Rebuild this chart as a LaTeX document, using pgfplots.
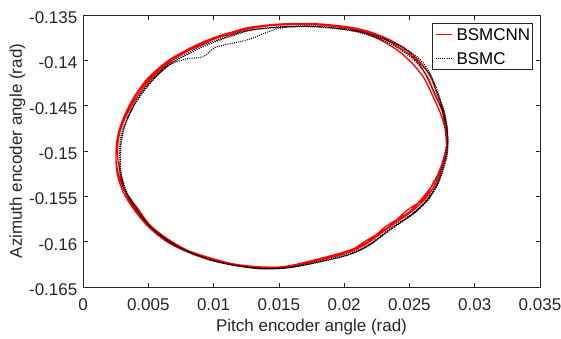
\documentclass[border=0pt]{standalone}
\usepackage{fontspec}
\setmainfont{Liberation Sans}
\usepackage{pgfplots}
\pgfplotsset{compat=1.18}

\definecolor{axisgray}{HTML}{262626}
\newcommand\fs{\fontsize{17}{20}\selectfont}

\begin{document}
\begin{tikzpicture}
\begin{axis}[
  scale only axis,
  width=457pt, height=272pt,
  xmin=0, xmax=0.035, ymin=-0.165, ymax=-0.135,
  scaled ticks=false,
  xtick={0,0.005,0.01,0.015,0.02,0.025,0.03,0.035},
  xticklabels={0,0.005,0.01,0.015,0.02,0.025,0.03,0.035},
  ytick={-0.165,-0.16,-0.155,-0.15,-0.145,-0.14,-0.135},
  yticklabels={-0.165,-0.16,-0.155,-0.15,-0.145,-0.14,-0.135},
  tick align=inside,
  major tick length=4.5pt,
  axis line style={draw=axisgray, line width=0.6pt},
  every tick/.style={draw=axisgray, line width=0.6pt},
  tick label style={font=\fs, text=axisgray, inner sep=0pt},
  xticklabel style={anchor=base, yshift=-23pt},
  yticklabel style={anchor=east, xshift=-5.5pt, yshift=-2.5pt},
  every axis x label/.style={at={(axis description cs:0.5,0)}, yshift=-44.7pt, anchor=base, font=\fs, text=axisgray},
  every axis y label/.style={at={(axis description cs:0,0.5)}, xshift=-65.5pt, rotate=90, anchor=center, font=\fs, text=axisgray},
  xlabel={Pitch encoder angle (rad)},
  ylabel={Azimuth encoder angle (rad)},
  legend cell align=left,
  legend image code/.code={\draw[#1] (0pt,0pt) -- (16.7pt,0pt);},
  legend style={at={(rel axis cs:1,1)}, anchor=north east, xshift=-7pt, yshift=-8pt,
    draw=axisgray, line width=0.6pt, font=\fs, text=black,
    inner xsep=2.5pt, inner ysep=4.9pt, row sep=11.8pt,
    nodes={inner sep=0pt, text height=12.2pt, text depth=0pt},
    /tikz/every odd column/.append style={column sep=3.5pt}},
]

% BSMCNN: three laps of the tracked trajectory
\addplot[red, line width=1.3pt, smooth, tension=0.5] coordinates {
(0.02792,-0.14890) (0.02785,-0.14730) (0.02760,-0.14550) (0.02712,-0.14365)
(0.02655,-0.14165) (0.02570,-0.14000) (0.02460,-0.13865) (0.02325,-0.13757)
(0.02172,-0.13675) (0.02019,-0.13629) (0.01763,-0.13595) (0.01508,-0.13600)
(0.01279,-0.13635) (0.01151,-0.13684) (0.01024,-0.13739) (0.00896,-0.13812)
(0.00768,-0.13905) (0.00641,-0.14015) (0.00495,-0.14200) (0.00395,-0.14395)
(0.00325,-0.14585) (0.00280,-0.14755) (0.00258,-0.14910) (0.00252,-0.15090)
(0.00265,-0.15270) (0.00310,-0.15460) (0.00395,-0.15655) (0.00500,-0.15835)
(0.00641,-0.15999) (0.00794,-0.16110) (0.00972,-0.16201) (0.01151,-0.16256)
(0.01355,-0.16293) (0.01560,-0.16280) (0.01763,-0.16220) (0.02019,-0.16127)
(0.02175,-0.16020) (0.02340,-0.15845) (0.02505,-0.15680) (0.02620,-0.15530)
(0.02700,-0.15360) (0.02750,-0.15180) (0.02782,-0.15025)
(0.02782,-0.14890) (0.02770,-0.14732) (0.02731,-0.14559) (0.02675,-0.14382)
(0.02611,-0.14194) (0.02525,-0.14039) (0.02424,-0.13905) (0.02300,-0.13792)
(0.02159,-0.13699) (0.02013,-0.13644) (0.01761,-0.13605) (0.01508,-0.13610)
(0.01280,-0.13640) (0.01154,-0.13693) (0.01028,-0.13748) (0.00899,-0.13816)
(0.00774,-0.13913) (0.00645,-0.14018) (0.00503,-0.14206) (0.00399,-0.14397)
(0.00335,-0.14588) (0.00285,-0.14756) (0.00263,-0.14910) (0.00252,-0.15090)
(0.00275,-0.15268) (0.00324,-0.15454) (0.00404,-0.15650) (0.00512,-0.15825)
(0.00648,-0.15991) (0.00800,-0.16101) (0.00974,-0.16196) (0.01154,-0.16246)
(0.01356,-0.16288) (0.01560,-0.16270) (0.01760,-0.16206) (0.02011,-0.16109)
(0.02170,-0.16012) (0.02324,-0.15828) (0.02497,-0.15674) (0.02599,-0.15518)
(0.02686,-0.15355) (0.02740,-0.15178) (0.02772,-0.15024)
(0.02787,-0.14890) (0.02775,-0.14732) (0.02750,-0.14553) (0.02693,-0.14374)
(0.02633,-0.14180) (0.02558,-0.14011) (0.02445,-0.13881) (0.02316,-0.13770)
(0.02167,-0.13684) (0.02017,-0.13634) (0.01762,-0.13600) (0.01508,-0.13605)
(0.01282,-0.13650) (0.01157,-0.13703) (0.01030,-0.13752) (0.00906,-0.13829)
(0.00777,-0.13917) (0.00655,-0.14029) (0.00515,-0.14214) (0.00413,-0.14403)
(0.00339,-0.14589) (0.00290,-0.14756) (0.00268,-0.14910) (0.00267,-0.15088)
(0.00290,-0.15264) (0.00329,-0.15452) (0.00422,-0.15639) (0.00516,-0.15822)
(0.00659,-0.15980) (0.00803,-0.16097) (0.00981,-0.16182) (0.01154,-0.16246)
(0.01357,-0.16278) (0.01560,-0.16275) (0.01761,-0.16211) (0.02017,-0.16123)
(0.02160,-0.15996) (0.02337,-0.15842) (0.02478,-0.15659) (0.02611,-0.15525)
(0.02682,-0.15353) (0.02745,-0.15179) (0.02777,-0.15025) (0.02792,-0.14890)
};
\addlegendentry{BSMCNN}

% BSMC: three laps of the tracked trajectory
\addplot[black, line width=1.1pt, dash pattern=on 1pt off 1.2pt, smooth, tension=0.5] coordinates {
(0.02792,-0.14890) (0.02780,-0.14731) (0.02750,-0.14553) (0.02698,-0.14371)
(0.02637,-0.14177) (0.02550,-0.14018) (0.02438,-0.13889) (0.02306,-0.13783)
(0.02154,-0.13708) (0.02005,-0.13663) (0.01756,-0.13630) (0.01508,-0.13635)
(0.01286,-0.13669) (0.01163,-0.13721) (0.01042,-0.13779) (0.00919,-0.13850)
(0.00795,-0.13940) (0.00669,-0.14043) (0.00527,-0.14222) (0.00426,-0.14409)
(0.00358,-0.14595) (0.00309,-0.14759) (0.00288,-0.14911) (0.00282,-0.15087)
(0.00295,-0.15263) (0.00334,-0.15451) (0.00413,-0.15644) (0.00512,-0.15825)
(0.00652,-0.15987) (0.00800,-0.16101) (0.00974,-0.16196) (0.01151,-0.16256)
(0.01354,-0.16298) (0.01560,-0.16290) (0.01767,-0.16239) (0.02029,-0.16149)
(0.02188,-0.16040) (0.02359,-0.15866) (0.02524,-0.15695) (0.02637,-0.15540)
(0.02714,-0.15365) (0.02760,-0.15182) (0.02787,-0.15026)
(0.02797,-0.14890) (0.02785,-0.14730) (0.02765,-0.14549) (0.02712,-0.14365)
(0.02664,-0.14159) (0.02582,-0.13990) (0.02460,-0.13865) (0.02319,-0.13766)
(0.02162,-0.13694) (0.02009,-0.13653) (0.01757,-0.13625) (0.01508,-0.13645)
(0.01279,-0.13765) (0.01151,-0.13809) (0.01010,-0.13860) (0.00920,-0.13960)
(0.00790,-0.13985) (0.00655,-0.14055) (0.00532,-0.14225) (0.00431,-0.14411)
(0.00354,-0.14593) (0.00314,-0.14760) (0.00293,-0.14911) (0.00287,-0.15086)
(0.00290,-0.15264) (0.00329,-0.15452) (0.00413,-0.15644) (0.00508,-0.15828)
(0.00648,-0.15991) (0.00797,-0.16106) (0.00972,-0.16201) (0.01150,-0.16261)
(0.01354,-0.16298) (0.01560,-0.16290) (0.01766,-0.16234) (0.02027,-0.16145)
(0.02190,-0.16044) (0.02353,-0.15859) (0.02528,-0.15698) (0.02642,-0.15542)
(0.02718,-0.15367) (0.02764,-0.15183) (0.02792,-0.15026)
(0.02792,-0.14890) (0.02790,-0.14729) (0.02755,-0.14551) (0.02721,-0.14361)
(0.02659,-0.14162) (0.02562,-0.14007) (0.02456,-0.13869) (0.02312,-0.13775)
(0.02159,-0.13699) (0.02007,-0.13658) (0.01758,-0.13620) (0.01508,-0.13630)
(0.01285,-0.13664) (0.01160,-0.13712) (0.01038,-0.13770) (0.00911,-0.13837)
(0.00789,-0.13932) (0.00662,-0.14036) (0.00523,-0.14220) (0.00422,-0.14407)
(0.00354,-0.14593) (0.00305,-0.14759) (0.00283,-0.14911) (0.00282,-0.15087)
(0.00285,-0.15265) (0.00324,-0.15454) (0.00408,-0.15647) (0.00508,-0.15828)
(0.00645,-0.15995) (0.00797,-0.16106) (0.00972,-0.16201) (0.01150,-0.16261)
(0.01355,-0.16293) (0.01560,-0.16285) (0.01765,-0.16229) (0.02025,-0.16140)
(0.02185,-0.16036) (0.02350,-0.15856) (0.02520,-0.15692) (0.02633,-0.15537)
(0.02709,-0.15364) (0.02752,-0.15181) (0.02782,-0.15025) (0.02792,-0.14890)
};
\addlegendentry{BSMC}
\end{axis}
\pgfresetboundingbox
\useasboundingbox ([xshift=-83pt,yshift=-51pt]current axis.south west)
  rectangle ([xshift=21pt,yshift=15pt]current axis.north east);
\end{tikzpicture}
\end{document}
